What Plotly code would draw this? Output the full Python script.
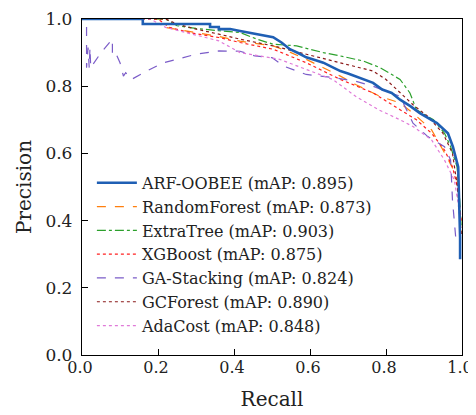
import plotly.graph_objects as go

# ---- data ----
arf_r = [0.0, 0.16, 0.16, 0.337, 0.337, 0.36, 0.36, 0.39, 0.416, 0.46, 0.503, 0.525, 0.547, 0.57, 0.59, 0.615, 0.635, 0.66, 0.68, 0.70, 0.72, 0.745, 0.766, 0.79, 0.815, 0.837, 0.865, 0.889, 0.91, 0.934, 0.963, 0.976, 0.99, 0.993, 0.995, 0.995]
arf_p = [1.0, 1.0, 0.985, 0.985, 0.976, 0.976, 0.97, 0.97, 0.964, 0.955, 0.946, 0.93, 0.91, 0.898, 0.886, 0.877, 0.87, 0.856, 0.845, 0.838, 0.83, 0.82, 0.81, 0.79, 0.78, 0.76, 0.74, 0.72, 0.705, 0.69, 0.66, 0.62, 0.56, 0.45, 0.35, 0.285]

rf_r = [0.0, 0.21, 0.22, 0.29, 0.36, 0.416, 0.503, 0.55, 0.59, 0.635, 0.68, 0.72, 0.766, 0.784, 0.837, 0.871, 0.92, 0.96, 0.987, 0.994, 0.998]
rf_p = [1.0, 1.0, 0.975, 0.962, 0.948, 0.934, 0.92, 0.90, 0.88, 0.855, 0.83, 0.805, 0.78, 0.77, 0.75, 0.72, 0.67, 0.59, 0.53, 0.44, 0.36]

et_r = [0.0, 0.22, 0.25, 0.30, 0.36, 0.416, 0.46, 0.503, 0.565, 0.60, 0.635, 0.68, 0.74, 0.785, 0.837, 0.863, 0.88, 0.925, 0.954, 0.97, 0.987, 0.994, 0.998]
et_p = [1.0, 1.0, 0.98, 0.972, 0.965, 0.96, 0.94, 0.925, 0.92, 0.91, 0.90, 0.89, 0.875, 0.855, 0.82, 0.78, 0.73, 0.70, 0.66, 0.62, 0.56, 0.46, 0.38]

xgb_r = [0.0, 0.20, 0.23, 0.29, 0.36, 0.416, 0.503, 0.59, 0.68, 0.766, 0.837, 0.88, 0.92, 0.954, 0.975, 0.988, 0.994, 0.998]
xgb_p = [1.0, 1.0, 0.975, 0.958, 0.945, 0.93, 0.91, 0.87, 0.82, 0.78, 0.73, 0.70, 0.66, 0.61, 0.56, 0.50, 0.44, 0.40]

ga_r = [0.012, 0.012, 0.016, 0.019, 0.021, 0.023, 0.05, 0.08, 0.08, 0.09, 0.10, 0.109, 0.115, 0.13, 0.17, 0.215, 0.30, 0.36, 0.416, 0.455, 0.50, 0.53, 0.59, 0.66, 0.72, 0.766, 0.80, 0.837, 0.871, 0.91, 0.954, 0.97, 0.975, 0.98, 0.985]
ga_p = [0.976, 0.855, 0.915, 0.855, 0.915, 0.855, 0.90, 0.94, 0.89, 0.895, 0.87, 0.83, 0.84, 0.82, 0.845, 0.87, 0.895, 0.905, 0.904, 0.89, 0.885, 0.86, 0.835, 0.826, 0.815, 0.80, 0.785, 0.77, 0.69, 0.65, 0.62, 0.58, 0.46, 0.38, 0.33]

gcf_r = [0.0, 0.22, 0.25, 0.30, 0.36, 0.416, 0.503, 0.59, 0.68, 0.766, 0.80, 0.837, 0.871, 0.91, 0.95, 0.975, 0.988, 0.994, 0.998]
gcf_p = [1.0, 1.0, 0.985, 0.97, 0.955, 0.94, 0.92, 0.895, 0.87, 0.845, 0.82, 0.78, 0.745, 0.71, 0.66, 0.60, 0.50, 0.42, 0.36]

ada_r = [0.0, 0.18, 0.22, 0.29, 0.36, 0.416, 0.52, 0.59, 0.66, 0.72, 0.78, 0.837, 0.871, 0.92, 0.954, 0.98, 0.99, 0.995]
ada_p = [1.0, 1.0, 0.975, 0.955, 0.935, 0.90, 0.88, 0.85, 0.82, 0.77, 0.73, 0.70, 0.68, 0.64, 0.58, 0.52, 0.45, 0.40]

names = ["ARF-OOBEE (mAP: 0.895)", "RandomForest (mAP: 0.873)", "ExtraTree (mAP: 0.903)",
         "XGBoost (mAP: 0.875)", "GA-Stacking (mAP: 0.824)", "GCForest (mAP: 0.890)",
         "AdaCost (mAP: 0.848)"]
recalls = [arf_r, rf_r, et_r, xgb_r, ga_r, gcf_r, ada_r]
precisions = [arf_p, rf_p, et_p, xgb_p, ga_p, gcf_p, ada_p]
colors = ["#1f5fb4", "#ff7f0e", "#2ca02c", "#ff2020", "#7b5cc8", "#8b1a1a", "#e07ad8"]
dashes = ["solid", "dash", "dashdot", "dot", "dash", "dot", "dot"]
widths = [2.6, 1.2, 1.2, 1.2, 1.2, 1.2, 1.2]

fig = go.Figure()
order = [1, 2, 3, 4, 5, 6, 0]  # ARF drawn on top
for i in order:
    fig.add_trace(go.Scatter(
        x=recalls[i], y=precisions[i], mode="lines", name=names[i],
        line=dict(color=colors[i], dash=dashes[i], width=widths[i]),
        legendrank=i + 1,
    ))

font_family = "DejaVu Serif"
# the page body has an 8px margin; margins below compensate for it
fig.update_layout(
    width=476, height=415,
    margin=dict(l=74, r=22, t=11, b=68),
    paper_bgcolor="white", plot_bgcolor="white",
    font=dict(family=font_family, size=17, color="#222"),
    legend=dict(x=0.026, y=0.563, xanchor="left", yanchor="top",
                bgcolor="rgba(255,255,255,0)", borderwidth=0,
                font=dict(family=font_family, size=16, color="#222"),
                tracegroupgap=0, itemwidth=40),
    showlegend=True,
)
ticks = [0, 0.2, 0.4, 0.6, 0.8, 1.0]
tick_text = ["0.0", "0.2", "0.4", "0.6", "0.8", "1.0"]
common = dict(range=[0, 1], tickvals=ticks, ticktext=tick_text,
              ticks="inside", ticklen=6, tickcolor="black",
              showline=True, linecolor="black", linewidth=1.3, mirror=True,
              showgrid=False, zeroline=False, automargin=False)
fig.update_xaxes(**common, tickfont=dict(size=16), ticklabelstandoff=-2,
                 ticklabelshift=-2,
                 title=dict(text="Recall", standoff=15))
fig.update_yaxes(**common, tickfont=dict(size=17), ticklabelstandoff=5,
                 title=dict(text="Precision", standoff=8))

fig.write_html("out.html")
